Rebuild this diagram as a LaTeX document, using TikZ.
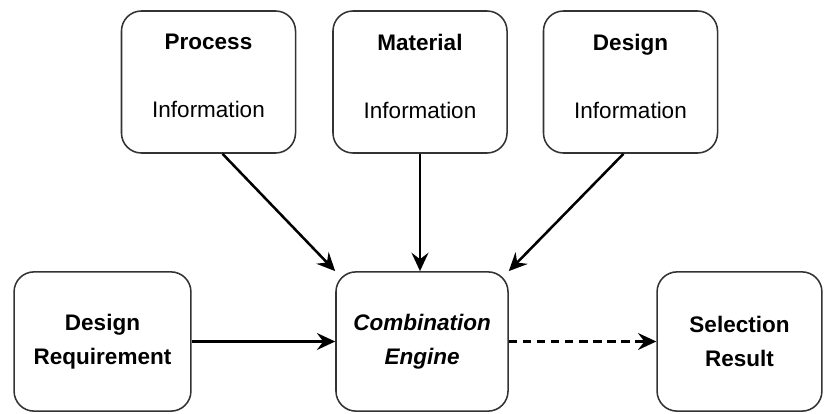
\documentclass[tikz,border=0pt]{standalone}
\usepackage{fontspec}
\setmainfont{Liberation Sans}
\usetikzlibrary{arrows.meta}

\begin{document}
\begin{tikzpicture}[x=0.025cm,y=-0.025cm,
	box/.style={draw=black!80, line width=1.1pt, rounded corners=0.5cm, align=center, font=\fontsize{16}{24}\selectfont, inner sep=0pt},
	infobox/.style={box, minimum width=4.35cm, minimum height=3.55cm},
	flow/.style={line width=1.8pt, -{Stealth[length=13pt, width=12pt, inset=4.5pt]}}]
			\useasboundingbox (0,0) rectangle (824,414);
			\node[infobox] (proc) at (208.5,82) {\textbf{Process}\\[0.85cm]Information\rule[-0.3cm]{0pt}{0pt}};
			\node[infobox] (mat) at (420,82) {\textbf{Material}\\[0.85cm]Information\rule[-0.3cm]{0pt}{0pt}};
			\node[infobox] (des) at (630.5,82) {\textbf{Design}\\[0.85cm]Information\rule[-0.3cm]{0pt}{0pt}};
			\node[box, minimum width=4.42cm, minimum height=3.48cm] (req) at (102.5,341.5) {\textbf{Design}\\\textbf{Requirement}};
			\node[box, minimum width=4.3cm, minimum height=3.48cm] (eng) at (422,341.5) {\textbf{\textit{Combination}}\\\textbf{\textit{Engine}}};
			\node[box, minimum width=4.12cm, minimum height=3.48cm] (res) at (739.5,341.5) {\textbf{Selection}\\\textbf{Result}};
			\draw[flow] (proc.south) ++(14,0) coordinate (p1) (p1) -- (eng.north west);
			\draw[flow] (mat.south) -- (mat.south |- eng.north);
			\draw[flow] (des.south) ++(-7,0) coordinate (d1) (d1) -- (eng.north east);
			\draw[flow] (req) -- (eng);
			\draw[flow, dash pattern=on 6pt off 4pt] (eng) -- (res);
		\end{tikzpicture}
\end{document}
